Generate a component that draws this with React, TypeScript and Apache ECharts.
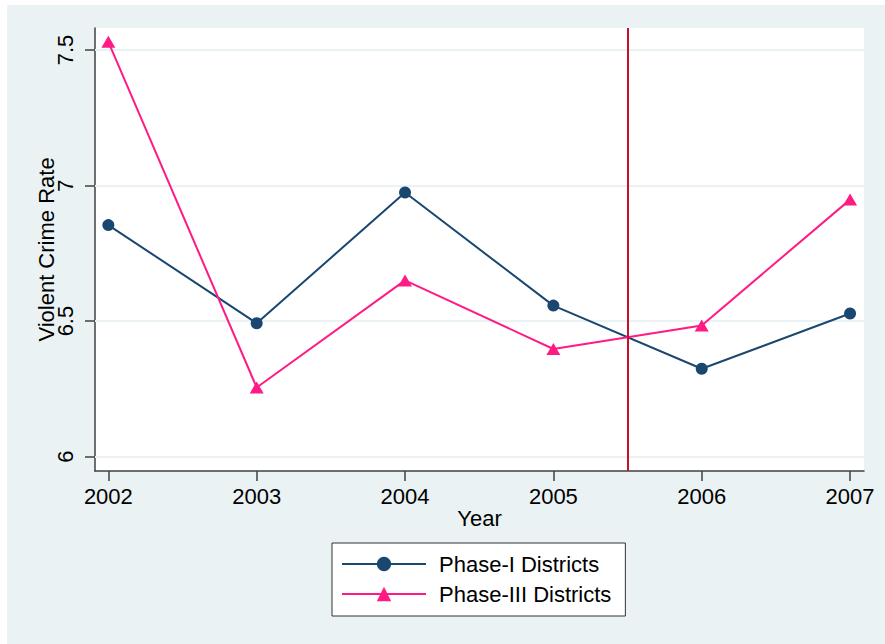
import React, { useEffect, useRef } from "react";
import * as echarts from "echarts";

const years = [2002, 2003, 2004, 2005, 2006, 2007];
const phaseI = [6.854, 6.492, 6.974, 6.557, 6.324, 6.528];
const phaseIII = [7.53, 6.255, 6.65, 6.397, 6.484, 6.948];
const yTicks = [6, 6.5, 7, 7.5];
const policyYear = 2005.5;
const seriesNames = ["Phase-I Districts", "Phase-III Districts"];

const FONT = "'Liberation Sans', Arial, sans-serif";
const BG = "#EAF2F3";
const NAVY = "#1A476F";
const PINK = "#FF1A84";
const RED = "#C8102E";
const AXIS = "#404040";

export default function App() {
  const ref = useRef<HTMLDivElement>(null);
  useEffect(() => {
    if (!ref.current) return;
    const chart = echarts.init(ref.current, null, { renderer: "svg" });
    chart.setOption({
      animation: false,
      backgroundColor: BG,
      grid: {
        left: 88,
        top: 23,
        right: 21,
        bottom: 173,
        show: true,
        backgroundColor: "#ffffff",
        borderWidth: 0,
        containLabel: false,
        outerBoundsMode: "none",
      },
      xAxis: {
        type: "value",
        min: 2001.91,
        max: 2007.094,
        name: "Year",
        nameLocation: "middle",
        nameGap: 36,
        nameMoveOverlap: false,
        nameTextStyle: { fontFamily: FONT, fontSize: 22, color: "#000" },
        axisLine: { show: true, onZero: false, lineStyle: { color: AXIS, width: 1.5 } },
        axisTick: { show: true, length: 10, customValues: years, lineStyle: { color: AXIS, width: 1.5 } },
        axisLabel: {
          customValues: years,
          margin: 14,
          fontFamily: FONT,
          fontSize: 22,
          color: "#000",
          formatter: (v: number) => String(Math.round(v)),
        },
        splitLine: { show: false },
      },
      yAxis: {
        type: "value",
        min: 5.947,
        max: 7.581,
        name: "Violent Crime Rate",
        nameLocation: "middle",
        nameGap: 38,
        nameMoveOverlap: false,
        nameRotate: 90,
        nameTextStyle: { fontFamily: FONT, fontSize: 22, color: "#000" },
        axisLine: { show: true, onZero: false, lineStyle: { color: AXIS, width: 1.5 } },
        axisTick: { show: true, length: 10, customValues: yTicks, lineStyle: { color: AXIS, width: 1.5 } },
        axisLabel: {
          customValues: yTicks,
          rotate: 90,
          margin: 19,
          fontFamily: FONT,
          fontSize: 22,
          color: "#000",
          formatter: (v: number) => String(v),
        },
        splitLine: { show: false },
      },
      legend: {
        data: seriesNames,
        orient: "vertical",
        left: 325,
        top: 538,
        backgroundColor: "#ffffff",
        borderColor: "#333333",
        borderWidth: 1,
        borderRadius: 0,
        padding: [10, 14, 11, 9],
        itemGap: 8,
        itemWidth: 84,
        itemHeight: 18,
        textStyle: { fontFamily: FONT, fontSize: 22, color: "#000", padding: [0, 0, 0, 8] },
      },
      series: [
        {
          type: "line",
          name: "grid",
          data: [],
          z: 1,
          silent: true,
          markLine: {
            z: 1,
            silent: true,
            symbol: ["none", "none"],
            label: { show: false },
            lineStyle: { color: BG, width: 2, type: "solid" },
            data: yTicks.map((v) => ({ yAxis: v })),
          },
        },
        {
          type: "line",
          name: seriesNames[0],
          data: years.map((y, i) => [y, phaseI[i]]),
          z: 3,
          color: NAVY,
          symbol: "circle",
          symbolSize: 12,
          showAllSymbol: true,
          lineStyle: { color: NAVY, width: 2 },
          itemStyle: { color: NAVY },
        },
        {
          type: "line",
          name: seriesNames[1],
          data: years.map((y, i) => [y, phaseIII[i]]),
          z: 3,
          color: PINK,
          symbol: "triangle",
          symbolSize: [14, 12],
          showAllSymbol: true,
          lineStyle: { color: PINK, width: 2 },
          itemStyle: { color: PINK },
          markLine: {
            silent: true,
            symbol: ["none", "none"],
            label: { show: false },
            lineStyle: { color: RED, width: 2, type: "solid" },
            data: [{ xAxis: policyYear }],
          },
        },
      ],
    });
    return () => chart.dispose();
  }, []);
  return (
    <div
      ref={ref}
      style={{ position: "absolute", left: 7, top: 5, width: 878, height: 639 }}
    />
  );
}
